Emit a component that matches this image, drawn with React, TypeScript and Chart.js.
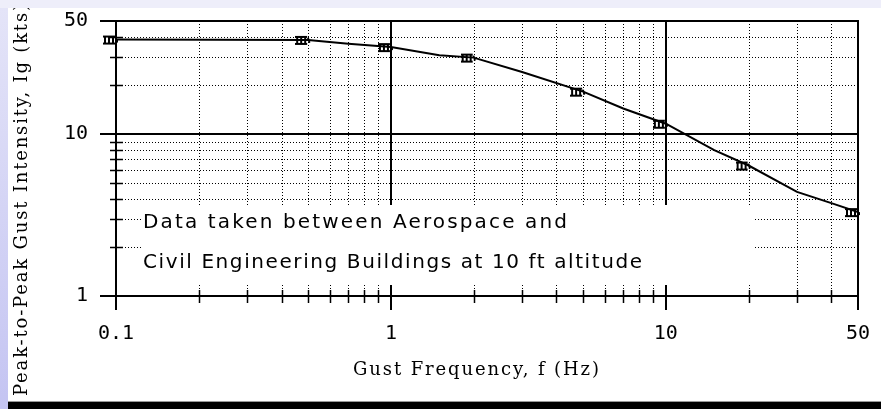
import React, { useEffect, useRef } from 'react';
import { Chart, registerables } from 'chart.js';

Chart.register(...registerables);

// ---- data ----
const markerFrequencies = [0.1, 0.5, 1, 2, 5, 10, 20, 50];
const markerIntensities = [38.4, 38.2, 34.5, 29.7, 18.3, 11.6, 6.4, 3.3];
const curveFrequencies = [0.1, 0.5, 0.7, 1, 1.5, 2, 3, 5, 7, 10, 15, 20, 30, 40, 50];
const curveIntensities = [38.4, 38.2, 36.2, 34.5, 30.7, 29.7, 24.2, 18.3, 14.4, 11.6, 7.96, 6.4, 4.4, 3.75, 3.3];

const xTickValues = [0.1, 1, 10, 50];
const yTickValues = [1, 10, 50];
const xMajorGrid = [1, 10];
const yMajorGrid = [10];
const xMinorGrid = [0.2, 0.3, 0.4, 0.5, 0.6, 0.7, 0.8, 0.9, 2, 3, 4, 5, 6, 7, 8, 9, 20, 30, 40];
const yMinorGrid = [2, 3, 4, 5, 6, 7, 8, 9, 20, 30, 40];

const xTitle = 'Gust Frequency, f (Hz)';
const yTitle = 'Peak-to-Peak Gust Intensity, Ig (kts)';
const noteLines = ['Data taken between Aerospace and', 'Civil Engineering Buildings at 10 ft altitude'];

function fitText(ctx: CanvasRenderingContext2D, text: string, x: number, y: number, width: number) {
  (ctx as any).letterSpacing = '0px';
  const w = ctx.measureText(text).width;
  const ls = (width - w) / Math.max(1, text.length - 1);
  (ctx as any).letterSpacing = ls + 'px';
  ctx.fillText(text, x, y);
  (ctx as any).letterSpacing = '0px';
}

function makeMarker(): HTMLCanvasElement {
  const c = document.createElement('canvas');
  c.width = 26;
  c.height = 14;
  const g = c.getContext('2d')!;
  g.fillStyle = '#000';
  // bitmap-like marker glyph, drawn to the left of the point
  g.fillRect(0, 3, 12, 2);
  g.fillRect(1, 3, 2, 8);
  g.fillRect(5, 3, 2, 8);
  g.fillRect(9, 3, 2, 8);
  g.fillRect(0, 10, 4, 2);
  g.fillRect(4, 10, 4, 2);
  g.fillRect(8, 10, 4, 2);
  g.fillRect(12, 5, 2, 2);
  g.fillRect(13, 7, 2, 3);
  return c;
}

const paperPlugin = {
  id: 'paper',
  beforeDatasetsDraw(chart: any) {
    const { ctx, chartArea: a, scales } = chart;
    const x = scales.x;
    const y = scales.y;
    const px = (v: number) => Math.round(x.getPixelForValue(v));
    const py = (v: number) => Math.round(y.getPixelForValue(v));
    const L = Math.round(a.left);
    const R = Math.round(a.right);
    const T = Math.round(a.top);
    const B = Math.round(a.bottom);
    ctx.save();
    ctx.strokeStyle = '#000';
    ctx.fillStyle = '#000';

    // dotted minor grid
    ctx.lineWidth = 1;
    ctx.setLineDash([1, 2]);
    for (const v of xMinorGrid) {
      const p = px(v) + 0.5;
      ctx.beginPath();
      ctx.moveTo(p, T);
      ctx.lineTo(p, B);
      ctx.stroke();
    }
    for (const v of yMinorGrid) {
      const p = py(v) + 0.5;
      ctx.beginPath();
      ctx.moveTo(L, p);
      ctx.lineTo(R, p);
      ctx.stroke();
    }
    ctx.setLineDash([]);

    // major decade lines
    ctx.lineWidth = 2;
    for (const v of xMajorGrid) {
      const p = px(v);
      ctx.beginPath();
      ctx.moveTo(p, T);
      ctx.lineTo(p, B + 14);
      ctx.stroke();
    }
    for (const v of yMajorGrid) {
      const p = py(v);
      ctx.beginPath();
      ctx.moveTo(L - 16, p);
      ctx.lineTo(R, p);
      ctx.stroke();
    }

    // note box
    ctx.fillStyle = '#fff';
    ctx.fillRect(133, 197, 614, 80);
    ctx.fillStyle = '#000';
    ctx.font = '20px "DejaVu Sans", sans-serif';
    ctx.textBaseline = 'alphabetic';
    ctx.textAlign = 'left';
    fitText(ctx, noteLines[0], 135, 220, 424);
    fitText(ctx, noteLines[1], 135, 260, 499);

    // frame
    ctx.lineWidth = 2;
    ctx.beginPath();
    ctx.moveTo(L - 16, T);
    ctx.lineTo(R + 1, T);
    ctx.moveTo(L - 16, B);
    ctx.lineTo(R + 1, B);
    ctx.moveTo(L, T);
    ctx.lineTo(L, B + 14);
    ctx.moveTo(R, T);
    ctx.lineTo(R, B + 14);
    ctx.stroke();

    // minor ticks
    ctx.lineWidth = 1.5;
    ctx.beginPath();
    for (const v of xMinorGrid) {
      const p = px(v) + 0.5;
      ctx.moveTo(p, B - 6);
      ctx.lineTo(p, B + 7);
    }
    for (const v of yMinorGrid) {
      const p = py(v) + 0.5;
      ctx.moveTo(L - 6, p);
      ctx.lineTo(L + 7, p);
    }
    ctx.stroke();

    // axis titles
    ctx.font = '18px "DejaVu Serif", serif';
    ctx.textBaseline = 'middle';
    fitText(ctx, xTitle, 345, 362, 246);
    ctx.save();
    ctx.translate(19, 388);
    ctx.rotate(-Math.PI / 2);
    ctx.textBaseline = 'alphabetic';
    fitText(ctx, yTitle, 0, 0, 392);
    ctx.restore();

    ctx.restore();
  },
};

export default function App() {
  const ref = useRef<HTMLCanvasElement | null>(null);

  useEffect(() => {
    const canvas = ref.current;
    if (!canvas) return;
    const marker = makeMarker();
    const tickFont = { family: '"DejaVu Sans Mono", monospace', size: 20 };
    const chart = new Chart(canvas, {
      type: 'line',
      data: {
        datasets: [
          {
            data: curveFrequencies.map((f, i) => ({ x: f, y: curveIntensities[i] })),
            borderColor: '#000',
            borderWidth: 2,
            pointRadius: 0,
            tension: 0,
          },
          {
            data: markerFrequencies.map((f, i) => ({ x: f, y: markerIntensities[i] })),
            showLine: false,
            clip: false,
            pointStyle: marker as any,
            pointRadius: 7,
            borderColor: '#000',
            backgroundColor: '#000',
          },
        ],
      },
      plugins: [paperPlugin],
      options: {
        animation: false,
        responsive: false,
        devicePixelRatio: 1,
        layout: { padding: { top: 13, right: 23, left: 0, bottom: 0 } },
        plugins: { legend: { display: false }, tooltip: { enabled: false } },
        scales: {
          x: {
            type: 'logarithmic',
            position: 'bottom',
            min: 0.1,
            max: 50,
            grid: { display: false, drawTicks: false },
            border: { display: false },
            afterBuildTicks: (s: any) => {
              s.ticks = xTickValues.map((v) => ({ value: v }));
            },
            afterFit: (s: any) => {
              s.height = 106;
              s.paddingLeft = 0;
              s.paddingRight = 0;
              s.paddingTop = 0;
              s.paddingBottom = 0;
            },
            ticks: {
              autoSkip: false,
              maxRotation: 0,
              padding: 26,
              color: '#000',
              font: tickFont,
              callback: (v: any) => String(v),
            },
          },
          y: {
            type: 'logarithmic',
            position: 'left',
            min: 1,
            max: 50,
            grid: { display: false, drawTicks: false },
            border: { display: false },
            afterBuildTicks: (s: any) => {
              s.ticks = yTickValues.map((v) => ({ value: v }));
            },
            afterFit: (s: any) => {
              s.width = 108;
              s.paddingLeft = 0;
              s.paddingRight = 0;
              s.paddingTop = 0;
              s.paddingBottom = 0;
            },
            ticks: {
              autoSkip: false,
              padding: 28,
              color: '#000',
              font: tickFont,
              callback: (v: any) => String(v),
            },
          },
        },
      },
    } as any);
    return () => chart.destroy();
  }, []);

  return (
    <div
      style={{
        position: 'fixed',
        left: 0,
        top: 0,
        width: 881,
        height: 409,
        background: '#eeeefa',
        overflow: 'hidden',
      }}
    >
      <div
        style={{
          position: 'absolute',
          left: 0,
          top: 8,
          width: 8,
          height: 401,
          background: 'linear-gradient(#e4e4f8, #c4c4f2)',
        }}
      />
      <div style={{ position: 'absolute', left: 8, top: 8, width: 873, height: 394, background: '#fff' }}>
        <canvas ref={ref} width={873} height={394} style={{ width: 873, height: 394, display: 'block' }} />
      </div>
      <div style={{ position: 'absolute', left: 8, top: 401, width: 873, height: 1, background: '#999' }} />
      <div style={{ position: 'absolute', left: 8, top: 402, width: 873, height: 7, background: '#000' }} />
    </div>
  );
}
